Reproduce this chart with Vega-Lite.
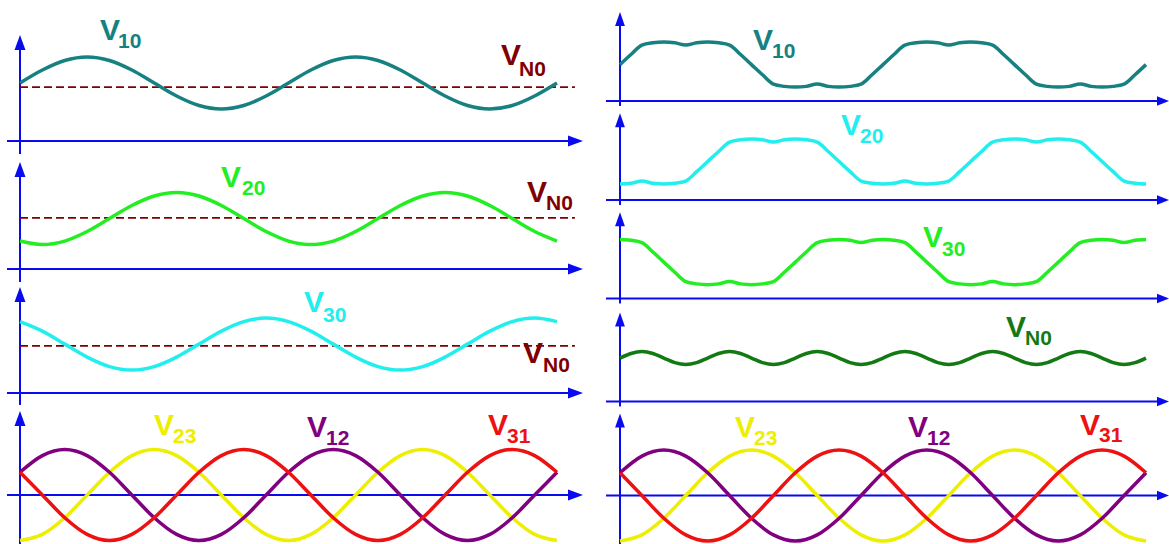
{
 "$schema": "https://vega.github.io/schema/vega-lite/v6.json",
 "padding": 0,
 "background": "white",
 "spacing": 0,
 "config": {"view": {"stroke": null}, "axis": {"disable": true}},
 "datasets": {
  "L": [
   {"t":0,"V10":2.23,"V20":1.074,"V30":2.746,"V12":0.875,"V23":-1.75,"V31":0.875},
   {"t":30,"V10":2.73,"V20":0.94,"V30":2.38,"V12":1.516,"V23":-1.516,"V31":0},
   {"t":60,"V10":3.096,"V20":1.074,"V30":1.88,"V12":1.75,"V23":-0.875,"V31":-0.875},
   {"t":90,"V10":3.23,"V20":1.44,"V30":1.38,"V12":1.516,"V23":0,"V31":-1.516},
   {"t":120,"V10":3.096,"V20":1.94,"V30":1.014,"V12":0.875,"V23":0.875,"V31":-1.75},
   {"t":150,"V10":2.73,"V20":2.44,"V30":0.88,"V12":0,"V23":1.516,"V31":-1.516},
   {"t":180,"V10":2.23,"V20":2.806,"V30":1.014,"V12":-0.875,"V23":1.75,"V31":-0.875},
   {"t":210,"V10":1.73,"V20":2.94,"V30":1.38,"V12":-1.516,"V23":1.516,"V31":0},
   {"t":240,"V10":1.364,"V20":2.806,"V30":1.88,"V12":-1.75,"V23":0.875,"V31":0.875},
   {"t":270,"V10":1.23,"V20":2.44,"V30":2.38,"V12":-1.516,"V23":0,"V31":1.516},
   {"t":300,"V10":1.364,"V20":1.94,"V30":2.746,"V12":-0.875,"V23":-0.875,"V31":1.75},
   {"t":330,"V10":1.73,"V20":1.44,"V30":2.88,"V12":0,"V23":-1.516,"V31":1.516},
   {"t":360,"V10":2.23,"V20":1.074,"V30":2.746,"V12":0.875,"V23":-1.75,"V31":0.875},
   {"t":390,"V10":2.73,"V20":0.94,"V30":2.38,"V12":1.516,"V23":-1.516,"V31":0},
   {"t":420,"V10":3.096,"V20":1.074,"V30":1.88,"V12":1.75,"V23":-0.875,"V31":-0.875},
   {"t":450,"V10":3.23,"V20":1.44,"V30":1.38,"V12":1.516,"V23":0,"V31":-1.516},
   {"t":480,"V10":3.096,"V20":1.94,"V30":1.014,"V12":0.875,"V23":0.875,"V31":-1.75},
   {"t":510,"V10":2.73,"V20":2.44,"V30":0.88,"V12":0,"V23":1.516,"V31":-1.516},
   {"t":540,"V10":2.23,"V20":2.806,"V30":1.014,"V12":-0.875,"V23":1.75,"V31":-0.875},
   {"t":570,"V10":1.73,"V20":2.94,"V30":1.38,"V12":-1.516,"V23":1.516,"V31":0},
   {"t":600,"V10":1.364,"V20":2.806,"V30":1.88,"V12":-1.75,"V23":0.875,"V31":0.875},
   {"t":630,"V10":1.23,"V20":2.44,"V30":2.38,"V12":-1.516,"V23":0,"V31":1.516},
   {"t":660,"V10":1.364,"V20":1.94,"V30":2.746,"V12":-0.875,"V23":-0.875,"V31":1.75},
   {"t":690,"V10":1.73,"V20":1.44,"V30":2.88,"V12":0,"V23":-1.516,"V31":1.516},
   {"t":720,"V10":2.23,"V20":1.074,"V30":2.746,"V12":0.875,"V23":-1.75,"V31":0.875}
  ],
  "R": [
   {"t":0,"V10":1.40,"V20":0.614,"V30":2.266,"VN0":1.67},
   {"t":15,"V10":1.788,"V20":0.643,"V30":2.237,"VN0":1.847},
   {"t":30,"V10":2.15,"V20":0.73,"V30":2.15,"VN0":1.92},
   {"t":45,"V10":2.237,"V20":0.643,"V30":1.788,"VN0":1.847},
   {"t":60,"V10":2.266,"V20":0.614,"V30":1.40,"VN0":1.67},
   {"t":75,"V10":2.237,"V20":0.643,"V30":1.012,"VN0":1.493},
   {"t":90,"V10":2.15,"V20":0.73,"V30":0.65,"VN0":1.42},
   {"t":105,"V10":2.237,"V20":1.092,"V30":0.563,"VN0":1.493},
   {"t":120,"V10":2.266,"V20":1.48,"V30":0.534,"VN0":1.67},
   {"t":135,"V10":2.237,"V20":1.868,"V30":0.563,"VN0":1.847},
   {"t":150,"V10":2.15,"V20":2.23,"V30":0.65,"VN0":1.92},
   {"t":165,"V10":1.788,"V20":2.317,"V30":0.563,"VN0":1.847},
   {"t":180,"V10":1.40,"V20":2.346,"V30":0.534,"VN0":1.67},
   {"t":195,"V10":1.012,"V20":2.317,"V30":0.563,"VN0":1.493},
   {"t":210,"V10":0.65,"V20":2.23,"V30":0.65,"VN0":1.42},
   {"t":225,"V10":0.563,"V20":2.317,"V30":1.012,"VN0":1.493},
   {"t":240,"V10":0.534,"V20":2.346,"V30":1.40,"VN0":1.67},
   {"t":255,"V10":0.563,"V20":2.317,"V30":1.788,"VN0":1.847},
   {"t":270,"V10":0.65,"V20":2.23,"V30":2.15,"VN0":1.92},
   {"t":285,"V10":0.563,"V20":1.868,"V30":2.237,"VN0":1.847},
   {"t":300,"V10":0.534,"V20":1.48,"V30":2.266,"VN0":1.67},
   {"t":315,"V10":0.563,"V20":1.092,"V30":2.237,"VN0":1.493},
   {"t":330,"V10":0.65,"V20":0.73,"V30":2.15,"VN0":1.42},
   {"t":345,"V10":1.012,"V20":0.643,"V30":2.237,"VN0":1.493},
   {"t":360,"V10":1.40,"V20":0.614,"V30":2.266,"VN0":1.67},
   {"t":375,"V10":1.788,"V20":0.643,"V30":2.237,"VN0":1.847},
   {"t":390,"V10":2.15,"V20":0.73,"V30":2.15,"VN0":1.92},
   {"t":405,"V10":2.237,"V20":0.643,"V30":1.788,"VN0":1.847},
   {"t":420,"V10":2.266,"V20":0.614,"V30":1.40,"VN0":1.67},
   {"t":435,"V10":2.237,"V20":0.643,"V30":1.012,"VN0":1.493},
   {"t":450,"V10":2.15,"V20":0.73,"V30":0.65,"VN0":1.42},
   {"t":465,"V10":2.237,"V20":1.092,"V30":0.563,"VN0":1.493},
   {"t":480,"V10":2.266,"V20":1.48,"V30":0.534,"VN0":1.67},
   {"t":495,"V10":2.237,"V20":1.868,"V30":0.563,"VN0":1.847},
   {"t":510,"V10":2.15,"V20":2.23,"V30":0.65,"VN0":1.92},
   {"t":525,"V10":1.788,"V20":2.317,"V30":0.563,"VN0":1.847},
   {"t":540,"V10":1.40,"V20":2.346,"V30":0.534,"VN0":1.67},
   {"t":555,"V10":1.012,"V20":2.317,"V30":0.563,"VN0":1.493},
   {"t":570,"V10":0.65,"V20":2.23,"V30":0.65,"VN0":1.42},
   {"t":585,"V10":0.563,"V20":2.317,"V30":1.012,"VN0":1.493},
   {"t":600,"V10":0.534,"V20":2.346,"V30":1.40,"VN0":1.67},
   {"t":615,"V10":0.563,"V20":2.317,"V30":1.788,"VN0":1.847},
   {"t":630,"V10":0.65,"V20":2.23,"V30":2.15,"VN0":1.92},
   {"t":645,"V10":0.563,"V20":1.868,"V30":2.237,"VN0":1.847},
   {"t":660,"V10":0.534,"V20":1.48,"V30":2.266,"VN0":1.67},
   {"t":675,"V10":0.563,"V20":1.092,"V30":2.237,"VN0":1.493},
   {"t":690,"V10":0.65,"V20":0.73,"V30":2.15,"VN0":1.42},
   {"t":705,"V10":1.012,"V20":0.643,"V30":2.237,"VN0":1.493},
   {"t":720,"V10":1.40,"V20":0.614,"V30":2.266,"VN0":1.67}
  ]
 },
 "hconcat": [
  {
   "spacing": 0,
   "bounds": "flush",
   "vconcat": [
    {
     "width": 600, "height": 152,
     "layer": [
      {"data":{"values":[{}]},"mark":{"type":"rule","color":"#0a0aee","strokeWidth":2},
       "encoding":{"x":{"datum":-17.43,"type":"quantitative","scale":{"domain":[-26.816,777.654],"nice":false,"zero":false}},"x2":{"datum":737.4},"y":{"datum":0,"type":"quantitative","scale":{"domain":[-0.423,5.423],"nice":false,"zero":false}}}},
      {"data":{"values":[{}]},"mark":{"type":"rule","color":"#0a0aee","strokeWidth":2},
       "encoding":{"x":{"datum":0,"type":"quantitative"},"y":{"datum":-0.5,"type":"quantitative"},"y2":{"datum":3.6}}},
      {"data":{"values":[{}]},"mark":{"type":"point","shape":"M1,0L-1,-0.73L-1,0.73Z","filled":true,"opacity":1,"color":"#0a0aee","size":225},
       "encoding":{"x":{"datum":744.8,"type":"quantitative"},"y":{"datum":0,"type":"quantitative"}}},
      {"data":{"values":[{}]},"mark":{"type":"point","shape":"M0,-1L-0.73,1L0.73,1Z","filled":true,"opacity":1,"color":"#0a0aee","size":225},
       "encoding":{"x":{"datum":0,"type":"quantitative"},"y":{"datum":3.79,"type":"quantitative"}}},
      {"data":{"values":[{}]},"mark":{"type":"rule","color":"#800000","strokeWidth":1.8,"strokeDash":[8,4]},
       "encoding":{"x":{"datum":0,"type":"quantitative"},"x2":{"datum":744},"y":{"datum":2.07,"type":"quantitative"}}},
      {"data":{"name":"L"},"mark":{"type":"line","color":"#178080","strokeWidth":3.5,"interpolate":"monotone"},
       "encoding":{"x":{"field":"t","type":"quantitative"},"y":{"field":"V10","type":"quantitative"}}},
      {"data":{"values":[{}]},"mark":{"type":"text","text":"V","font":"Liberation Sans","fontWeight":"bold","fontSize":30,"color":"#178080","align":"left","baseline":"alphabetic"},
       "encoding":{"x":{"datum":107.3,"type":"quantitative"},"y":{"datum":3.885,"type":"quantitative"}}},
      {"data":{"values":[{}]},"mark":{"type":"text","text":"10","font":"Liberation Sans","fontWeight":"bold","fontSize":21,"color":"#178080","align":"left","baseline":"alphabetic"},
       "encoding":{"x":{"datum":131.4,"type":"quantitative"},"y":{"datum":3.577,"type":"quantitative"}}},
      {"data":{"values":[{}]},"mark":{"type":"text","text":"V","font":"Liberation Sans","fontWeight":"bold","fontSize":30,"color":"#800000","align":"left","baseline":"alphabetic"},
       "encoding":{"x":{"datum":644.9,"type":"quantitative"},"y":{"datum":2.923,"type":"quantitative"}}},
      {"data":{"values":[{}]},"mark":{"type":"text","text":"N0","font":"Liberation Sans","fontWeight":"bold","fontSize":21,"color":"#800000","align":"left","baseline":"alphabetic"},
       "encoding":{"x":{"datum":669.0,"type":"quantitative"},"y":{"datum":2.519,"type":"quantitative"}}}
     ]
    },
    {
     "width": 600, "height": 128,
     "layer": [
      {"data":{"values":[{}]},"mark":{"type":"rule","color":"#0a0aee","strokeWidth":2},
       "encoding":{"x":{"datum":-17.43,"type":"quantitative","scale":{"domain":[-26.816,777.654],"nice":false,"zero":false}},"x2":{"datum":737.4},"y":{"datum":0,"type":"quantitative","scale":{"domain":[-0.423,4.5],"nice":false,"zero":false}}}},
      {"data":{"values":[{}]},"mark":{"type":"rule","color":"#0a0aee","strokeWidth":2},
       "encoding":{"x":{"datum":0,"type":"quantitative"},"y":{"datum":-0.5,"type":"quantitative"},"y2":{"datum":3.65}}},
      {"data":{"values":[{}]},"mark":{"type":"point","shape":"M1,0L-1,-0.73L-1,0.73Z","filled":true,"opacity":1,"color":"#0a0aee","size":225},
       "encoding":{"x":{"datum":744.8,"type":"quantitative"},"y":{"datum":0,"type":"quantitative"}}},
      {"data":{"values":[{}]},"mark":{"type":"point","shape":"M0,-1L-0.73,1L0.73,1Z","filled":true,"opacity":1,"color":"#0a0aee","size":225},
       "encoding":{"x":{"datum":0,"type":"quantitative"},"y":{"datum":3.83,"type":"quantitative"}}},
      {"data":{"values":[{}]},"mark":{"type":"rule","color":"#800000","strokeWidth":1.8,"strokeDash":[8,4]},
       "encoding":{"x":{"datum":0,"type":"quantitative"},"x2":{"datum":744},"y":{"datum":1.97,"type":"quantitative"}}},
      {"data":{"name":"L"},"mark":{"type":"line","color":"#22ee22","strokeWidth":3.5,"interpolate":"monotone"},
       "encoding":{"x":{"field":"t","type":"quantitative"},"y":{"field":"V20","type":"quantitative"}}},
      {"data":{"values":[{}]},"mark":{"type":"text","text":"V","font":"Liberation Sans","fontWeight":"bold","fontSize":30,"color":"#22ee22","align":"left","baseline":"alphabetic"},
       "encoding":{"x":{"datum":269.5,"type":"quantitative"},"y":{"datum":3.154,"type":"quantitative"}}},
      {"data":{"values":[{}]},"mark":{"type":"text","text":"20","font":"Liberation Sans","fontWeight":"bold","fontSize":21,"color":"#22ee22","align":"left","baseline":"alphabetic"},
       "encoding":{"x":{"datum":297.7,"type":"quantitative"},"y":{"datum":2.827,"type":"quantitative"}}},
      {"data":{"values":[{}]},"mark":{"type":"text","text":"V","font":"Liberation Sans","fontWeight":"bold","fontSize":30,"color":"#800000","align":"left","baseline":"alphabetic"},
       "encoding":{"x":{"datum":679.8,"type":"quantitative"},"y":{"datum":2.577,"type":"quantitative"}}},
      {"data":{"values":[{}]},"mark":{"type":"text","text":"N0","font":"Liberation Sans","fontWeight":"bold","fontSize":21,"color":"#800000","align":"left","baseline":"alphabetic"},
       "encoding":{"x":{"datum":705.3,"type":"quantitative"},"y":{"datum":2.269,"type":"quantitative"}}}
     ]
    },
    {
     "width": 600, "height": 125,
     "layer": [
      {"data":{"values":[{}]},"mark":{"type":"rule","color":"#0a0aee","strokeWidth":2},
       "encoding":{"x":{"datum":-17.43,"type":"quantitative","scale":{"domain":[-26.816,777.654],"nice":false,"zero":false}},"x2":{"datum":737.4},"y":{"datum":0,"type":"quantitative","scale":{"domain":[-0.4615,4.346],"nice":false,"zero":false}}}},
      {"data":{"values":[{}]},"mark":{"type":"rule","color":"#0a0aee","strokeWidth":2},
       "encoding":{"x":{"datum":0,"type":"quantitative"},"y":{"datum":-0.46,"type":"quantitative"},"y2":{"datum":3.6}}},
      {"data":{"values":[{}]},"mark":{"type":"point","shape":"M1,0L-1,-0.73L-1,0.73Z","filled":true,"opacity":1,"color":"#0a0aee","size":225},
       "encoding":{"x":{"datum":744.8,"type":"quantitative"},"y":{"datum":0,"type":"quantitative"}}},
      {"data":{"values":[{}]},"mark":{"type":"point","shape":"M0,-1L-0.73,1L0.73,1Z","filled":true,"opacity":1,"color":"#0a0aee","size":225},
       "encoding":{"x":{"datum":0,"type":"quantitative"},"y":{"datum":3.79,"type":"quantitative"}}},
      {"data":{"values":[{}]},"mark":{"type":"rule","color":"#800000","strokeWidth":1.8,"strokeDash":[8,4]},
       "encoding":{"x":{"datum":0,"type":"quantitative"},"x2":{"datum":744},"y":{"datum":1.81,"type":"quantitative"}}},
      {"data":{"name":"L"},"mark":{"type":"line","color":"#22eeee","strokeWidth":3.5,"interpolate":"monotone"},
       "encoding":{"x":{"field":"t","type":"quantitative"},"y":{"field":"V30","type":"quantitative"}}},
      {"data":{"values":[{}]},"mark":{"type":"text","text":"V","font":"Liberation Sans","fontWeight":"bold","fontSize":30,"color":"#22eeee","align":"left","baseline":"alphabetic"},
       "encoding":{"x":{"datum":380.8,"type":"quantitative"},"y":{"datum":3.115,"type":"quantitative"}}},
      {"data":{"values":[{}]},"mark":{"type":"text","text":"30","font":"Liberation Sans","fontWeight":"bold","fontSize":21,"color":"#22eeee","align":"left","baseline":"alphabetic"},
       "encoding":{"x":{"datum":406.3,"type":"quantitative"},"y":{"datum":2.731,"type":"quantitative"}}},
      {"data":{"values":[{}]},"mark":{"type":"text","text":"V","font":"Liberation Sans","fontWeight":"bold","fontSize":30,"color":"#800000","align":"left","baseline":"alphabetic"},
       "encoding":{"x":{"datum":674.4,"type":"quantitative"},"y":{"datum":1.154,"type":"quantitative"}}},
      {"data":{"values":[{}]},"mark":{"type":"text","text":"N0","font":"Liberation Sans","fontWeight":"bold","fontSize":21,"color":"#800000","align":"left","baseline":"alphabetic"},
       "encoding":{"x":{"datum":701.2,"type":"quantitative"},"y":{"datum":0.808,"type":"quantitative"}}}
     ]
    },
    {
     "width": 600, "height": 139,
     "layer": [
      {"data":{"values":[{}]},"mark":{"type":"rule","color":"#0a0aee","strokeWidth":2},
       "encoding":{"x":{"datum":-17.43,"type":"quantitative","scale":{"domain":[-26.816,777.654],"nice":false,"zero":false}},"x2":{"datum":737.4},"y":{"datum":0,"type":"quantitative","scale":{"domain":[-1.8846,3.4615],"nice":false,"zero":false}}}},
      {"data":{"values":[{}]},"mark":{"type":"rule","color":"#0a0aee","strokeWidth":2},
       "encoding":{"x":{"datum":0,"type":"quantitative"},"y":{"datum":-1.8846,"type":"quantitative"},"y2":{"datum":2.75}}},
      {"data":{"values":[{}]},"mark":{"type":"point","shape":"M1,0L-1,-0.73L-1,0.73Z","filled":true,"opacity":1,"color":"#0a0aee","size":225},
       "encoding":{"x":{"datum":744.8,"type":"quantitative"},"y":{"datum":0,"type":"quantitative"}}},
      {"data":{"values":[{}]},"mark":{"type":"point","shape":"M0,-1L-0.73,1L0.73,1Z","filled":true,"opacity":1,"color":"#0a0aee","size":225},
       "encoding":{"x":{"datum":0,"type":"quantitative"},"y":{"datum":2.94,"type":"quantitative"}}},
      {"data":{"name":"L"},"mark":{"type":"line","color":"#eeee00","strokeWidth":3.5,"interpolate":"monotone"},
       "encoding":{"x":{"field":"t","type":"quantitative"},"y":{"field":"V23","type":"quantitative"}}},
      {"data":{"name":"L"},"mark":{"type":"line","color":"#800080","strokeWidth":3.5,"interpolate":"monotone"},
       "encoding":{"x":{"field":"t","type":"quantitative"},"y":{"field":"V12","type":"quantitative"}}},
      {"data":{"name":"L"},"mark":{"type":"line","color":"#ee1111","strokeWidth":3.5,"interpolate":"monotone"},
       "encoding":{"x":{"field":"t","type":"quantitative"},"y":{"field":"V31","type":"quantitative"}}},
      {"data":{"values":[{}]},"mark":{"type":"text","text":"V","font":"Liberation Sans","fontWeight":"bold","fontSize":30,"color":"#eeee00","align":"left","baseline":"alphabetic"},
       "encoding":{"x":{"datum":179.7,"type":"quantitative"},"y":{"datum":2.308,"type":"quantitative"}}},
      {"data":{"values":[{}]},"mark":{"type":"text","text":"23","font":"Liberation Sans","fontWeight":"bold","fontSize":21,"color":"#eeee00","align":"left","baseline":"alphabetic"},
       "encoding":{"x":{"datum":205.1,"type":"quantitative"},"y":{"datum":2.0,"type":"quantitative"}}},
      {"data":{"values":[{}]},"mark":{"type":"text","text":"V","font":"Liberation Sans","fontWeight":"bold","fontSize":30,"color":"#800080","align":"left","baseline":"alphabetic"},
       "encoding":{"x":{"datum":384.8,"type":"quantitative"},"y":{"datum":2.231,"type":"quantitative"}}},
      {"data":{"values":[{}]},"mark":{"type":"text","text":"12","font":"Liberation Sans","fontWeight":"bold","fontSize":21,"color":"#800080","align":"left","baseline":"alphabetic"},
       "encoding":{"x":{"datum":410.3,"type":"quantitative"},"y":{"datum":1.923,"type":"quantitative"}}},
      {"data":{"values":[{}]},"mark":{"type":"text","text":"V","font":"Liberation Sans","fontWeight":"bold","fontSize":30,"color":"#ee1111","align":"left","baseline":"alphabetic"},
       "encoding":{"x":{"datum":627.5,"type":"quantitative"},"y":{"datum":2.308,"type":"quantitative"}}},
      {"data":{"values":[{}]},"mark":{"type":"text","text":"31","font":"Liberation Sans","fontWeight":"bold","fontSize":21,"color":"#ee1111","align":"left","baseline":"alphabetic"},
       "encoding":{"x":{"datum":653.0,"type":"quantitative"},"y":{"datum":2.0,"type":"quantitative"}}}
     ]
    }
   ]
  },
  {
   "spacing": 0,
   "bounds": "flush",
   "vconcat": [
    {
     "width": 569, "height": 107,
     "layer": [
      {"data":{"values":[{}]},"mark":{"type":"rule","color":"#0a0aee","strokeWidth":2},
       "encoding":{"x":{"datum":-19.16,"type":"quantitative","scale":{"domain":[-27.376,751.48],"nice":false,"zero":false}},"x2":{"datum":736.4},"y":{"datum":0,"type":"quantitative","scale":{"domain":[-0.231,3.885],"nice":false,"zero":false}}}},
      {"data":{"values":[{}]},"mark":{"type":"rule","color":"#0a0aee","strokeWidth":2},
       "encoding":{"x":{"datum":0,"type":"quantitative"},"y":{"datum":-0.19,"type":"quantitative"},"y2":{"datum":3.0}}},
      {"data":{"values":[{}]},"mark":{"type":"point","shape":"M1,0L-1,-0.8L-1,0.8Z","filled":true,"opacity":1,"color":"#0a0aee","size":144},
       "encoding":{"x":{"datum":743.27,"type":"quantitative"},"y":{"datum":0,"type":"quantitative"}}},
      {"data":{"values":[{}]},"mark":{"type":"point","shape":"M0,-1L-0.7,1L0.7,1Z","filled":true,"opacity":1,"color":"#0a0aee","size":196},
       "encoding":{"x":{"datum":0,"type":"quantitative"},"y":{"datum":3.15,"type":"quantitative"}}},
      {"data":{"name":"R"},"mark":{"type":"line","color":"#178080","strokeWidth":3.5,"interpolate":"monotone"},
       "encoding":{"x":{"field":"t","type":"quantitative"},"y":{"field":"V10","type":"quantitative"}}},
      {"data":{"values":[{}]},"mark":{"type":"text","text":"V","font":"Liberation Sans","fontWeight":"bold","fontSize":30,"color":"#178080","align":"left","baseline":"alphabetic"},
       "encoding":{"x":{"datum":182.1,"type":"quantitative"},"y":{"datum":1.962,"type":"quantitative"}}},
      {"data":{"values":[{}]},"mark":{"type":"text","text":"10","font":"Liberation Sans","fontWeight":"bold","fontSize":21,"color":"#178080","align":"left","baseline":"alphabetic"},
       "encoding":{"x":{"datum":208.1,"type":"quantitative"},"y":{"datum":1.654,"type":"quantitative"}}}
     ]
    },
    {
     "width": 569, "height": 98,
     "layer": [
      {"data":{"values":[{}]},"mark":{"type":"rule","color":"#0a0aee","strokeWidth":2},
       "encoding":{"x":{"datum":-19.16,"type":"quantitative","scale":{"domain":[-27.376,751.48],"nice":false,"zero":false}},"x2":{"datum":736.4},"y":{"datum":0,"type":"quantitative","scale":{"domain":[-0.192,3.577],"nice":false,"zero":false}}}},
      {"data":{"values":[{}]},"mark":{"type":"rule","color":"#0a0aee","strokeWidth":2},
       "encoding":{"x":{"datum":0,"type":"quantitative"},"y":{"datum":-0.19,"type":"quantitative"},"y2":{"datum":2.9}}},
      {"data":{"values":[{}]},"mark":{"type":"point","shape":"M1,0L-1,-0.8L-1,0.8Z","filled":true,"opacity":1,"color":"#0a0aee","size":144},
       "encoding":{"x":{"datum":743.27,"type":"quantitative"},"y":{"datum":0,"type":"quantitative"}}},
      {"data":{"values":[{}]},"mark":{"type":"point","shape":"M0,-1L-0.7,1L0.7,1Z","filled":true,"opacity":1,"color":"#0a0aee","size":196},
       "encoding":{"x":{"datum":0,"type":"quantitative"},"y":{"datum":3.07,"type":"quantitative"}}},
      {"data":{"name":"R"},"mark":{"type":"line","color":"#22eeee","strokeWidth":3.5,"interpolate":"monotone"},
       "encoding":{"x":{"field":"t","type":"quantitative"},"y":{"field":"V20","type":"quantitative"}}},
      {"data":{"values":[{}]},"mark":{"type":"text","text":"V","font":"Liberation Sans","fontWeight":"bold","fontSize":30,"color":"#22eeee","align":"left","baseline":"alphabetic"},
       "encoding":{"x":{"datum":302.5,"type":"quantitative"},"y":{"datum":2.5,"type":"quantitative"}}},
      {"data":{"values":[{}]},"mark":{"type":"text","text":"20","font":"Liberation Sans","fontWeight":"bold","fontSize":21,"color":"#22eeee","align":"left","baseline":"alphabetic"},
       "encoding":{"x":{"datum":328.5,"type":"quantitative"},"y":{"datum":2.192,"type":"quantitative"}}}
     ]
    },
    {
     "width": 569, "height": 101,
     "layer": [
      {"data":{"values":[{}]},"mark":{"type":"rule","color":"#0a0aee","strokeWidth":2},
       "encoding":{"x":{"datum":-19.16,"type":"quantitative","scale":{"domain":[-27.376,751.48],"nice":false,"zero":false}},"x2":{"datum":736.4},"y":{"datum":0,"type":"quantitative","scale":{"domain":[-0.288,3.596],"nice":false,"zero":false}}}},
      {"data":{"values":[{}]},"mark":{"type":"rule","color":"#0a0aee","strokeWidth":2},
       "encoding":{"x":{"datum":0,"type":"quantitative"},"y":{"datum":-0.19,"type":"quantitative"},"y2":{"datum":2.9}}},
      {"data":{"values":[{}]},"mark":{"type":"point","shape":"M1,0L-1,-0.8L-1,0.8Z","filled":true,"opacity":1,"color":"#0a0aee","size":144},
       "encoding":{"x":{"datum":743.27,"type":"quantitative"},"y":{"datum":0,"type":"quantitative"}}},
      {"data":{"values":[{}]},"mark":{"type":"point","shape":"M0,-1L-0.7,1L0.7,1Z","filled":true,"opacity":1,"color":"#0a0aee","size":196},
       "encoding":{"x":{"datum":0,"type":"quantitative"},"y":{"datum":3.05,"type":"quantitative"}}},
      {"data":{"name":"R"},"mark":{"type":"line","color":"#22ee22","strokeWidth":3.5,"interpolate":"monotone"},
       "encoding":{"x":{"field":"t","type":"quantitative"},"y":{"field":"V30","type":"quantitative"}}},
      {"data":{"values":[{}]},"mark":{"type":"text","text":"V","font":"Liberation Sans","fontWeight":"bold","fontSize":30,"color":"#22ee22","align":"left","baseline":"alphabetic"},
       "encoding":{"x":{"datum":414.8,"type":"quantitative"},"y":{"datum":1.981,"type":"quantitative"}}},
      {"data":{"values":[{}]},"mark":{"type":"text","text":"30","font":"Liberation Sans","fontWeight":"bold","fontSize":21,"color":"#22ee22","align":"left","baseline":"alphabetic"},
       "encoding":{"x":{"datum":440.8,"type":"quantitative"},"y":{"datum":1.635,"type":"quantitative"}}}
     ]
    },
    {
     "width": 569, "height": 102,
     "layer": [
      {"data":{"values":[{}]},"mark":{"type":"rule","color":"#0a0aee","strokeWidth":2},
       "encoding":{"x":{"datum":-19.16,"type":"quantitative","scale":{"domain":[-27.376,751.48],"nice":false,"zero":false}},"x2":{"datum":736.4},"y":{"datum":0,"type":"quantitative","scale":{"domain":[-0.25,3.673],"nice":false,"zero":false}}}},
      {"data":{"values":[{}]},"mark":{"type":"rule","color":"#0a0aee","strokeWidth":2},
       "encoding":{"x":{"datum":0,"type":"quantitative"},"y":{"datum":-0.19,"type":"quantitative"},"y2":{"datum":3.0}}},
      {"data":{"values":[{}]},"mark":{"type":"point","shape":"M1,0L-1,-0.8L-1,0.8Z","filled":true,"opacity":1,"color":"#0a0aee","size":144},
       "encoding":{"x":{"datum":743.27,"type":"quantitative"},"y":{"datum":0,"type":"quantitative"}}},
      {"data":{"values":[{}]},"mark":{"type":"point","shape":"M0,-1L-0.7,1L0.7,1Z","filled":true,"opacity":1,"color":"#0a0aee","size":196},
       "encoding":{"x":{"datum":0,"type":"quantitative"},"y":{"datum":3.15,"type":"quantitative"}}},
      {"data":{"name":"R"},"mark":{"type":"line","color":"#137a13","strokeWidth":3.5,"interpolate":"monotone"},
       "encoding":{"x":{"field":"t","type":"quantitative"},"y":{"field":"VN0","type":"quantitative"}}},
      {"data":{"values":[{}]},"mark":{"type":"text","text":"V","font":"Liberation Sans","fontWeight":"bold","fontSize":30,"color":"#137a13","align":"left","baseline":"alphabetic"},
       "encoding":{"x":{"datum":528.4,"type":"quantitative"},"y":{"datum":2.481,"type":"quantitative"}}},
      {"data":{"values":[{}]},"mark":{"type":"text","text":"N0","font":"Liberation Sans","fontWeight":"bold","fontSize":21,"color":"#137a13","align":"left","baseline":"alphabetic"},
       "encoding":{"x":{"datum":554.4,"type":"quantitative"},"y":{"datum":2.173,"type":"quantitative"}}}
     ]
    },
    {
     "width": 569, "height": 136,
     "layer": [
      {"data":{"values":[{}]},"mark":{"type":"rule","color":"#0a0aee","strokeWidth":2},
       "encoding":{"x":{"datum":-19.16,"type":"quantitative","scale":{"domain":[-27.376,751.48],"nice":false,"zero":false}},"x2":{"datum":736.4},"y":{"datum":0,"type":"quantitative","scale":{"domain":[-1.865,3.365],"nice":false,"zero":false}}}},
      {"data":{"values":[{}]},"mark":{"type":"rule","color":"#0a0aee","strokeWidth":2},
       "encoding":{"x":{"datum":0,"type":"quantitative"},"y":{"datum":-1.865,"type":"quantitative"},"y2":{"datum":2.7}}},
      {"data":{"values":[{}]},"mark":{"type":"point","shape":"M1,0L-1,-0.8L-1,0.8Z","filled":true,"opacity":1,"color":"#0a0aee","size":144},
       "encoding":{"x":{"datum":743.27,"type":"quantitative"},"y":{"datum":0,"type":"quantitative"}}},
      {"data":{"values":[{}]},"mark":{"type":"point","shape":"M0,-1L-0.7,1L0.7,1Z","filled":true,"opacity":1,"color":"#0a0aee","size":196},
       "encoding":{"x":{"datum":0,"type":"quantitative"},"y":{"datum":2.885,"type":"quantitative"}}},
      {"data":{"name":"L"},"mark":{"type":"line","color":"#eeee00","strokeWidth":3.5,"interpolate":"monotone"},
       "encoding":{"x":{"field":"t","type":"quantitative"},"y":{"field":"V23","type":"quantitative"}}},
      {"data":{"name":"L"},"mark":{"type":"line","color":"#800080","strokeWidth":3.5,"interpolate":"monotone"},
       "encoding":{"x":{"field":"t","type":"quantitative"},"y":{"field":"V12","type":"quantitative"}}},
      {"data":{"name":"L"},"mark":{"type":"line","color":"#ee1111","strokeWidth":3.5,"interpolate":"monotone"},
       "encoding":{"x":{"field":"t","type":"quantitative"},"y":{"field":"V31","type":"quantitative"}}},
      {"data":{"values":[{}]},"mark":{"type":"text","text":"V","font":"Liberation Sans","fontWeight":"bold","fontSize":30,"color":"#eeee00","align":"left","baseline":"alphabetic"},
       "encoding":{"x":{"datum":157.4,"type":"quantitative"},"y":{"datum":2.25,"type":"quantitative"}}},
      {"data":{"values":[{}]},"mark":{"type":"text","text":"23","font":"Liberation Sans","fontWeight":"bold","fontSize":21,"color":"#eeee00","align":"left","baseline":"alphabetic"},
       "encoding":{"x":{"datum":183.4,"type":"quantitative"},"y":{"datum":1.942,"type":"quantitative"}}},
      {"data":{"values":[{}]},"mark":{"type":"text","text":"V","font":"Liberation Sans","fontWeight":"bold","fontSize":30,"color":"#800080","align":"left","baseline":"alphabetic"},
       "encoding":{"x":{"datum":394.2,"type":"quantitative"},"y":{"datum":2.25,"type":"quantitative"}}},
      {"data":{"values":[{}]},"mark":{"type":"text","text":"12","font":"Liberation Sans","fontWeight":"bold","fontSize":21,"color":"#800080","align":"left","baseline":"alphabetic"},
       "encoding":{"x":{"datum":420.2,"type":"quantitative"},"y":{"datum":1.942,"type":"quantitative"}}},
      {"data":{"values":[{}]},"mark":{"type":"text","text":"V","font":"Liberation Sans","fontWeight":"bold","fontSize":30,"color":"#ee1111","align":"left","baseline":"alphabetic"},
       "encoding":{"x":{"datum":629.7,"type":"quantitative"},"y":{"datum":2.327,"type":"quantitative"}}},
      {"data":{"values":[{}]},"mark":{"type":"text","text":"31","font":"Liberation Sans","fontWeight":"bold","fontSize":21,"color":"#ee1111","align":"left","baseline":"alphabetic"},
       "encoding":{"x":{"datum":655.6,"type":"quantitative"},"y":{"datum":2.058,"type":"quantitative"}}}
     ]
    }
   ]
  }
 ]
}
